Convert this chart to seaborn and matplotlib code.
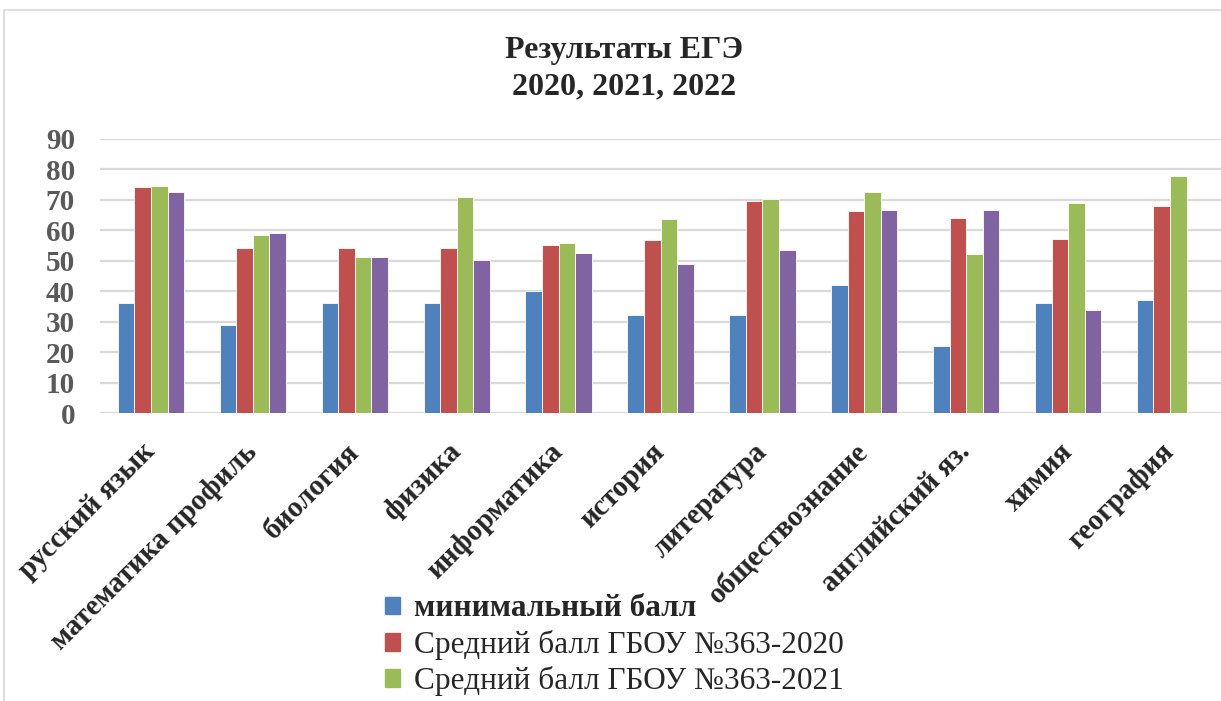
import matplotlib.pyplot as plt
import matplotlib.patches as mpatches
import seaborn as sns
import numpy as np
import pandas as pd

# данные с диаграммы
subjects = ['русский язык', 'математика профиль', 'биология', 'физика', 'информатика',
            'история', 'литература', 'обществознание', 'английский яз.', 'химия', 'география']
min_ball = [36, 29, 36, 36, 40, 32, 32, 42, 22, 36, 37]
avg_2020 = [74.3, 54.2, 54.3, 54.3, 55.2, 56.9, 69.4, 66.3, 64.1, 57.2, 67.9]
avg_2021 = [74.5, 58.4, 51.3, 70.8, 55.8, 63.6, 70.2, 72.6, 52.2, 69.0, 77.9]
avg_2022 = [72.5, 59.2, 51.1, 50.2, 52.4, 48.9, 53.4, 66.6, 66.6, 33.7, np.nan]
series_names = ['минимальный балл', 'Средний балл ГБОУ №363-2020',
                'Средний балл ГБОУ №363-2021', 'Средний балл ГБОУ №363-2022']
colors = ['#4F81BD', '#C0504D', '#9BBB59', '#8064A2']
y_ticks = list(range(0, 100, 10))

rows = []
for name, vals in zip(series_names, [min_ball, avg_2020, avg_2021, avg_2022]):
    for subj, v in zip(subjects, vals):
        rows.append({'предмет': subj, 'серия': name, 'балл': v})
df = pd.DataFrame(rows)

sns.set_style('white')
plt.rcParams['font.family'] = ['Liberation Serif', 'DejaVu Serif']

fig = plt.figure(figsize=(12.21, 7.01), dpi=100)
ax = fig.add_axes([100 / 1221, 1 - 413 / 701, 1 - 100 / 1221, (413 - 138.7) / 701])

sns.barplot(data=df, x='предмет', y='балл', hue='серия', palette=colors,
            order=subjects, hue_order=series_names, width=0.65,
            edgecolor='white', linewidth=0.6, saturation=1, ax=ax, legend=False)

ax.set_ylim(0, 90)
ax.set_xlim(-0.5, len(subjects) - 0.5)
ax.set_yticks(y_ticks)
ax.yaxis.grid(True, color='#D9D9D9', linewidth=1.6)
ax.set_axisbelow(True)
for s in ax.spines.values():
    s.set_visible(False)
ax.set_xlabel('')
ax.set_ylabel('')
ax.tick_params(axis='y', length=0, pad=18, labelsize=21, labelcolor='#595959')
ax.tick_params(axis='x', length=0, pad=25)
for lab in ax.get_yticklabels():
    lab.set_fontweight('bold')
ax.set_xticks(range(len(subjects)))
ax.set_xticklabels(subjects, rotation=45, ha='right', va='center',
                   rotation_mode='anchor', fontsize=21, fontweight='bold')

# заголовок
fig.text(0.511, 1 - 69 / 701, 'Результаты ЕГЭ\n2020, 2021, 2022', ha='center', va='center',
         fontsize=23, fontweight='bold', linespacing=1.35)

# легенда (видны три первых элемента)
handles = [mpatches.Patch(color=c) for c in colors[:3]]
leg = fig.legend(handles, series_names[:3], loc='upper left',
                 bbox_to_anchor=(372 / 1221, 1 - 582 / 701), frameon=False,
                 fontsize=22.5, handlelength=0.5, handleheight=0.5,
                 handletextpad=0.45, labelspacing=0.2, borderaxespad=0)
leg.get_texts()[0].set_fontweight('bold')

# рамка диаграммы
fig.patches.append(mpatches.Rectangle((4 / 1221, -0.1), 1.1, 1 - 10 / 701 + 0.1,
                                      transform=fig.transFigure, fill=False,
                                      edgecolor='#D9D9D9', linewidth=1.2))

fig.savefig('out.png', dpi=100)
